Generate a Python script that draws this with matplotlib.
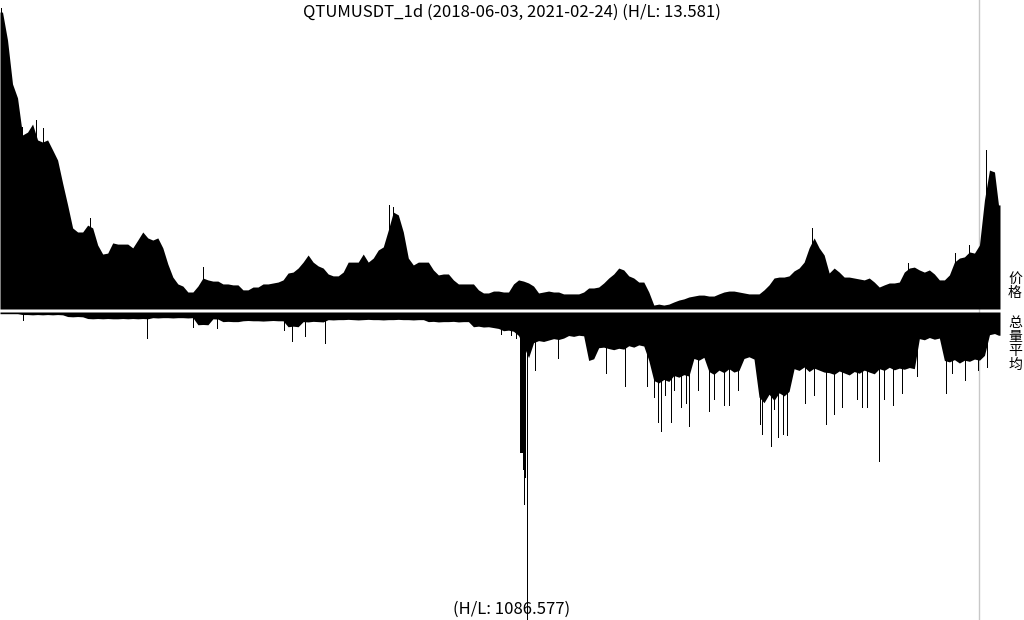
"""QTUMUSDT daily price (top) and mirrored volume (bottom) overview."""

import numpy as np
import pandas as pd
import matplotlib

matplotlib.use("Agg")
import matplotlib.pyplot as plt
from matplotlib.lines import Line2D

plt.rcParams["font.family"] = ["Noto Sans CJK SC", "DejaVu Sans"]

SYMBOL = "QTUMUSDT_1d"
START, END = "2018-06-03", "2021-02-24"
PRICE_HL = 13.581
VOLUME_HL = 1086.577

# closing price, one value per 5-day block
price = [
    13.41, 12.23, 10.38, 9.79, 8.23, 8.35, 8.69, 8.02, 7.93, 8.02,
    7.60, 7.17, 6.20, 5.28, 4.31, 4.14, 4.14, 4.43, 4.31, 3.59,
    3.21, 3.25, 3.68, 3.63, 3.63, 3.63, 3.47, 3.80, 4.14, 3.89,
    3.80, 3.89, 3.47, 2.79, 2.24, 1.95, 1.86, 1.61, 1.61, 1.86,
    2.20, 2.12, 2.07, 2.07, 1.95, 1.95, 1.91, 1.91, 1.70, 1.70,
    1.82, 1.82, 1.95, 1.95, 1.99, 2.03, 2.12, 2.41, 2.45, 2.62,
    2.87, 3.17, 2.87, 2.71, 2.62, 2.37, 2.29, 2.29, 2.45, 2.87,
    2.87, 2.87, 3.21, 2.87, 3.04, 3.38, 3.51, 4.22, 4.98, 4.86,
    4.14, 3.04, 2.75, 2.87, 2.87, 2.87, 2.54, 2.33, 2.37, 2.37,
    2.12, 1.95, 1.95, 1.95, 1.95, 1.70, 1.57, 1.57, 1.65, 1.65,
    1.61, 1.61, 1.95, 2.12, 2.07, 1.99, 1.86, 1.57, 1.61, 1.65,
    1.61, 1.61, 1.53, 1.53, 1.53, 1.53, 1.61, 1.78, 1.78, 1.82,
    1.99, 2.20, 2.37, 2.62, 2.54, 2.29, 2.20, 2.03, 2.03, 1.61,
    1.06, 1.10, 1.06, 1.10, 1.19, 1.27, 1.32, 1.40, 1.44, 1.48,
    1.48, 1.44, 1.44, 1.53, 1.61, 1.65, 1.65, 1.61, 1.57, 1.53,
    1.53, 1.53, 1.70, 1.91, 2.20, 2.24, 2.24, 2.29, 2.50, 2.62,
    2.87, 3.47, 3.89, 3.47, 3.17, 2.41, 2.62, 2.45, 2.24, 2.24,
    2.20, 2.16, 2.12, 2.20, 2.03, 1.82, 1.91, 1.99, 1.99, 2.03,
    2.45, 2.62, 2.66, 2.54, 2.45, 2.54, 2.37, 2.12, 2.12, 2.33,
    2.87, 3.04, 3.09, 3.30, 3.25, 3.59, 5.49, 6.75, 6.67, 5.28,
]
# single days that stick out above their block
price_spike_day = [1, 22, 36, 43, 90, 203, 388, 392, 810, 906, 953, 967, 984]
price_spike = [13.58, 8.57, 8.86, 8.52, 4.73, 2.66, 5.28, 5.19, 4.31, 2.83,
               3.25, 3.59, 7.60]

# traded volume (relative units), one value per 5-day block
volume = [
    6, 6, 6, 6, 9, 9, 10, 9, 10, 9,
    10, 9, 10, 16, 17, 16, 17, 23, 24, 23,
    24, 23, 24, 24, 23, 24, 23, 24, 23, 24,
    20, 21, 20, 20, 21, 20, 20, 21, 20, 45,
    44, 45, 24, 25, 34, 33, 34, 34, 31, 30,
    31, 31, 32, 31, 30, 31, 31, 52, 50, 52,
    34, 35, 33, 34, 35, 27, 28, 27, 27, 26,
    27, 28, 27, 26, 27, 27, 28, 27, 27, 26,
    27, 27, 28, 27, 27, 34, 33, 35, 34, 34,
    33, 35, 34, 34, 52, 50, 53, 52, 55, 58,
    66, 64, 68, 83, 120, 161, 108, 101, 104, 99,
    94, 97, 92, 83, 86, 82, 84, 171, 165, 126,
    124, 129, 133, 128, 131, 119, 124, 116, 120, 171,
    242, 250, 238, 245, 224, 230, 221, 226, 164, 170,
    160, 210, 220, 205, 214, 200, 212, 206, 164, 158,
    166, 300, 320, 290, 312, 285, 296, 280, 200, 206,
    194, 210, 198, 205, 212, 214, 220, 208, 215, 222,
    210, 216, 205, 212, 218, 200, 206, 195, 204, 198,
    202, 196, 200, 94, 98, 90, 96, 92, 171, 176,
    168, 180, 170, 174, 166, 170, 153, 80, 76, 82,
]
volume_spike_day = [
    23, 147, 193, 217, 283, 291, 304, 324, 500, 510, 515,
    519, 520, 521, 522, 523, 524, 526,
    534, 557, 605, 624, 646, 653, 657, 660, 664, 670, 673, 680, 685, 688,
    697, 708, 713, 723, 728, 737, 758, 760, 769, 772, 776, 781, 785,
    803, 812, 824, 832, 840, 855, 860, 865, 877, 882, 891, 900,
    915, 944, 950, 963, 976, 985,
]
volume_spike = [
    31, 94, 55, 59, 66, 105, 87, 112, 80, 85, 95,
    499, 499, 499, 559, 682, 587, 1086.577,
    207, 165, 217, 266, 266, 305, 390, 425, 295, 390, 277, 337, 323, 407,
    277, 354, 312, 330, 333, 277, 400, 435, 478, 347, 446, 435, 439,
    323, 295, 400, 365, 337, 312, 337, 340, 530, 312, 330, 288,
    231, 288, 217, 242, 207, 196,
]

MARK_DAY = 977  # light grey marker line

W, H = 1024, 620
dates = pd.date_range(START, END, freq="D")
n_days = len(dates)
block_start = np.arange(0, n_days, 5)
block_width = np.diff(np.append(block_start, n_days))
block_mid = block_start + (block_width - 1) / 2
x_fill = np.concatenate([[-0.5], block_mid, [n_days - 0.5]])

fig = plt.figure(figsize=(W / 100, H / 100), dpi=100)
fig.patch.set_facecolor("white")

right = 1000 / W
# panels on whole pixels: price y 8..309, volume y 312..620
ax_p = fig.add_axes([0, 311 / H, right, 301 / H])
ax_v = fig.add_axes([0, 0, right, 308 / H])

p_low = PRICE_HL - 0.04215 * 301
p_fill = np.concatenate([[price[0]], price, [price[-1]]])
ax_p.fill_between(x_fill, p_low, p_fill, color="black", linewidth=0)
# spikes start inside the filled area so they never bleed into the gap
p_base = p_low + 0.2
ax_p.bar(price_spike_day, np.array(price_spike) - p_base, bottom=p_base,
         width=1, color="black", linewidth=0)
ax_p.set_ylim(p_low, PRICE_HL)

v_fill = np.concatenate([[volume[0]], volume, [volume[-1]]])
ax_v.fill_between(x_fill, 0, v_fill, color="black", linewidth=0)
v_base = 5
ax_v.bar(volume_spike_day, np.array(volume_spike) - v_base, bottom=v_base,
         width=1, color="black", linewidth=0)
ax_v.set_ylim(VOLUME_HL, 0)

for ax in (ax_p, ax_v):
    ax.set_xlim(-0.5, n_days - 0.5)
    ax.set_axis_off()
    ax.patch.set_visible(False)

mx = (MARK_DAY + 0.5) / n_days * right
fig.add_artist(Line2D([mx, mx], [0, 1], color="#c8c8c8", linewidth=1.0,
                      zorder=-1, transform=fig.transFigure))

fig.text(0.5, 1 - 12 / H, f"{SYMBOL} ({START}, {END}) (H/L: {PRICE_HL})",
         ha="center", va="center", fontsize=12)
fig.text(0.5, 1 - 609 / H, f"(H/L: {VOLUME_HL})",
         ha="center", va="center", fontsize=12)
fig.text(1015 / W, 1 - 286 / H, "价\n格", ha="center", va="center",
         fontsize=10, linespacing=1.0)
fig.text(1015 / W, 1 - 344 / H, "总\n量\n平\n均", ha="center", va="center",
         fontsize=10, linespacing=1.0)

fig.savefig("out.png", dpi=100, facecolor="white")
